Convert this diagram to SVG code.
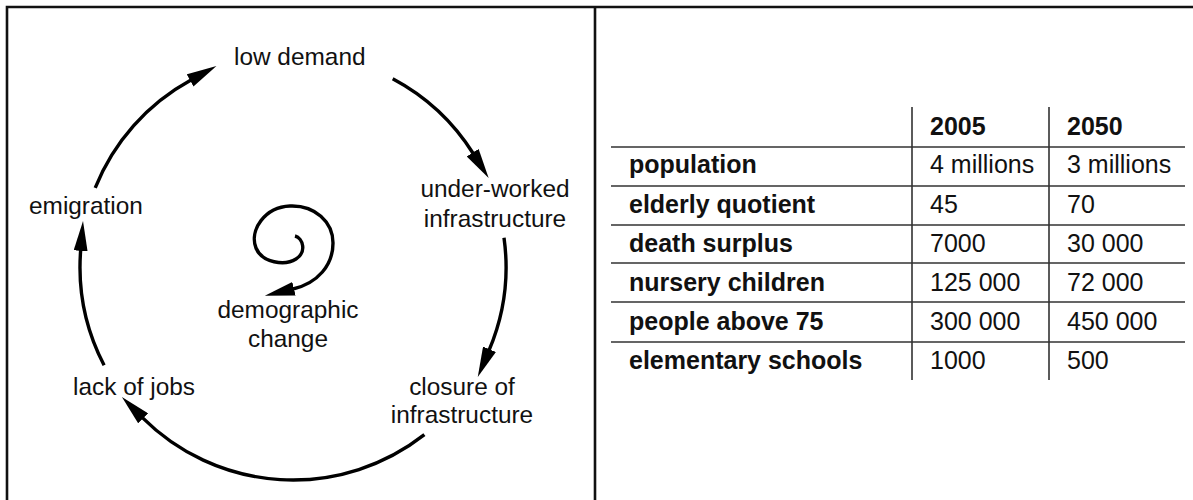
<svg xmlns="http://www.w3.org/2000/svg" width="1193" height="500" viewBox="0 0 1193 500">
<style>
.lbl{font-family:"Liberation Sans",Arial,sans-serif;font-size:24.4px;fill:#111}
.mid{text-anchor:middle}
.th{font-family:"Liberation Sans",Arial,sans-serif;font-size:25px;font-weight:bold;fill:#111}
.td{font-family:"Liberation Sans",Arial,sans-serif;font-size:25px;fill:#111}
.arc{fill:none;stroke:#000;stroke-width:3.4;marker-end:url(#ah)}
.frame{stroke:#111;stroke-width:2.6;fill:none}
.grid{stroke:#333;stroke-width:1.6;fill:none}
</style>
<defs>
<marker id="ah" markerUnits="userSpaceOnUse" viewBox="0 0 30 14" markerWidth="30" markerHeight="14" refX="1" refY="7" orient="auto">
<path d="M0,0 L30,7 L0,14 z" fill="#000"/>
</marker>
</defs>
<rect width="1193" height="500" fill="#fff"/>
<g id="frame">
<path class="frame" d="M7,500 V7 H1193 M595,7 V500"/>
</g>
<g id="connectors">
<path class="arc" d="M95.2,187.9 A213,213 0 0 1 191,80"/>
<path class="arc" d="M392.7,78.7 A213,213 0 0 1 473.2,153.5"/>
<path class="arc" d="M504,237.7 A213,213 0 0 1 489.1,350.2"/>
<path class="arc" d="M424.4,434.6 A213,213 0 0 1 142.4,417.6"/>
<path class="arc" d="M104.1,365.3 A213,213 0 0 1 80.7,249.9"/>
</g>
<g id="node-demographic-change">
<path class="arc" d="M295,236 C303,238 307,252 296,259 C285,266 262,263 256,248 C249,230 265,207 290,206 C315,205 333,222 333,243 C333,265 318,283 293,289"/>
<text class="lbl mid" x="288" y="318">demographic</text>
<text class="lbl mid" x="288" y="347">change</text>
</g>
<g id="node-low-demand"><text class="lbl" x="234" y="65">low demand</text></g>
<g id="node-under-worked"><text class="lbl mid" x="495" y="197">under-worked</text><text class="lbl mid" x="495" y="227">infrastructure</text></g>
<g id="node-closure"><text class="lbl mid" x="462" y="395">closure of</text><text class="lbl mid" x="462" y="423">infrastructure</text></g>
<g id="node-lack-of-jobs"><text class="lbl" x="73" y="395">lack of jobs</text></g>
<g id="node-emigration"><text class="lbl" x="29" y="214">emigration</text></g>
<g id="table">
<path class="grid" d="M912,107 V380 M1049,107 V380 M611,147 H1185 M611,186 H1185 M611,225 H1185 M611,263 H1185 M611,302 H1185 M611,342 H1185"/>
<text class="th" x="930" y="135">2005</text>
<text class="th" x="1067" y="135">2050</text>
<text class="th" x="629" y="173">population</text>
<text class="td" x="930" y="173">4 millions</text>
<text class="td" x="1067" y="173">3 millions</text>
<text class="th" x="629" y="213">elderly quotient</text>
<text class="td" x="930" y="213">45</text>
<text class="td" x="1067" y="213">70</text>
<text class="th" x="629" y="252">death surplus</text>
<text class="td" x="930" y="252">7000</text>
<text class="td" x="1067" y="252">30 000</text>
<text class="th" x="629" y="291">nursery children</text>
<text class="td" x="930" y="291">125 000</text>
<text class="td" x="1067" y="291">72 000</text>
<text class="th" x="629" y="330">people above 75</text>
<text class="td" x="930" y="330">300 000</text>
<text class="td" x="1067" y="330">450 000</text>
<text class="th" x="629" y="369">elementary schools</text>
<text class="td" x="930" y="369">1000</text>
<text class="td" x="1067" y="369">500</text>
</g>
</svg>
